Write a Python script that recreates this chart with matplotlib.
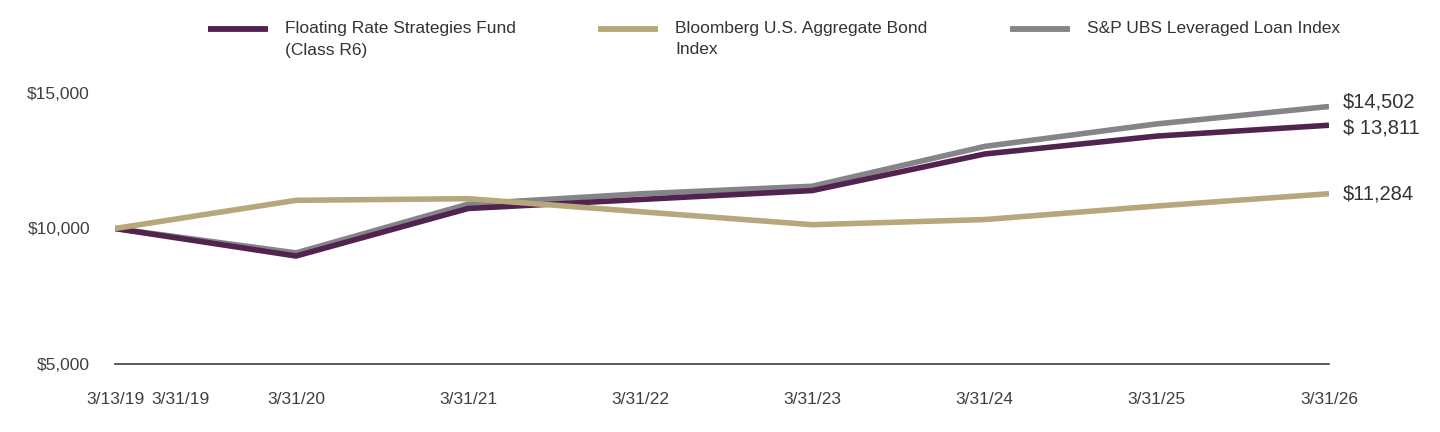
import datetime as dt
import matplotlib
matplotlib.use('Agg')
import matplotlib.pyplot as plt
from matplotlib.lines import Line2D

plt.rcParams['font.family'] = ['Liberation Sans', 'DejaVu Sans']

# data
dates = ['2019-03-13', '2020-03-31', '2021-03-31', '2022-03-31',
         '2023-03-31', '2024-03-31', '2025-03-31', '2026-03-31']
fund = [10000, 8985, 10738, 11070, 11400, 12750, 13410, 13811]
bond = [10000, 11040, 11100, 10620, 10140, 10330, 10830, 11284]
loan = [10000, 9100, 10900, 11280, 11560, 13030, 13860, 14502]

tick_dates = ['2019-03-13', '2020-03-31', '2021-03-31', '2022-03-31',
              '2023-03-31', '2024-03-31', '2025-03-31', '2026-03-31']
tick_labels = ['3/13/19', '3/31/20', '3/31/21', '3/31/22',
               '3/31/23', '3/31/24', '3/31/25', '3/31/26']
extra_label = ('2019-03-31', '3/31/19')

y_ticks = [5000, 10000, 15000]
y_labels = ['$5,000', '$10,000', '$15,000']

names = ['Floating Rate Strategies Fund\n(Class R6)',
         'Bloomberg U.S. Aggregate Bond\nIndex',
         'S&P UBS Leveraged Loan Index']
end_labels = ['$ 13,811', '$11,284', '$14,502']

c_fund = '#52234E'
c_bond = '#B7A87B'
c_loan = '#848489'
txt = '#404040'

tick_fs = 12.5
leg_fs = 12.5

x = [dt.datetime.strptime(d, '%Y-%m-%d') for d in dates]

fig = plt.figure(figsize=(14.4, 4.32), dpi=100)
ax = fig.add_axes([115/1440, 1 - 364/432, (1329 - 115)/1440, (364 - 93)/432])

ax.plot(x, loan, color=c_loan, lw=4, solid_capstyle='butt', zorder=2)
ax.plot(x, fund, color=c_fund, lw=4, solid_capstyle='butt', zorder=3)
ax.plot(x, bond, color=c_bond, lw=4, solid_capstyle='butt', zorder=4)

ax.set_xlim(x[0], x[-1])
ax.set_ylim(5000, 15000)

for s in ['top', 'right', 'left']:
    ax.spines[s].set_visible(False)
ax.spines['bottom'].set_color(txt)
ax.spines['bottom'].set_linewidth(1.2)

ax.set_yticks(y_ticks)
ax.set_yticklabels(y_labels)
ax.set_xticks([dt.datetime.strptime(d, '%Y-%m-%d') for d in tick_dates])
ax.set_xticklabels(tick_labels)
ax.tick_params(axis='both', length=0, labelsize=tick_fs, colors=txt)
ax.tick_params(axis='x', pad=20)
ax.tick_params(axis='y', pad=18)

# 3/31/19 label sits off its date in the original
ax.annotate(extra_label[1], xy=(dt.datetime.strptime(extra_label[0], '%Y-%m-%d'), 0),
            xycoords=('data', 'axes fraction'), xytext=(41, -20),
            textcoords='offset points', ha='center', va='top',
            fontsize=tick_fs, color=txt, annotation_clip=False)

# end value labels
for series, lab, dy in [(fund, end_labels[0], -2), (bond, end_labels[1], 0), (loan, end_labels[2], 3)]:
    ax.annotate(lab, xy=(x[-1], series[-1]), xytext=(10, dy),
                textcoords='offset points', ha='left', va='center',
                fontsize=14.5, color='#333333', annotation_clip=False)

# legend drawn by hand so handles align with first text line
leg_x = [208, 598, 1010]
for lx, name, col in zip(leg_x, names, [c_fund, c_bond, c_loan]):
    yy = 1 - 29/432
    fig.add_artist(Line2D([lx/1440, (lx + 60)/1440], [yy, yy], color=col, lw=4.2,
                          solid_capstyle='butt', transform=fig.transFigure))
    lines = name.split('\n')
    for i, part in enumerate(lines):
        fig.text((lx + 77)/1440, 1 - (29 + 21 * i)/432, part, ha='left', va='center',
                 fontsize=leg_fs, color='#333333')

fig.savefig('out.png', dpi=100)
